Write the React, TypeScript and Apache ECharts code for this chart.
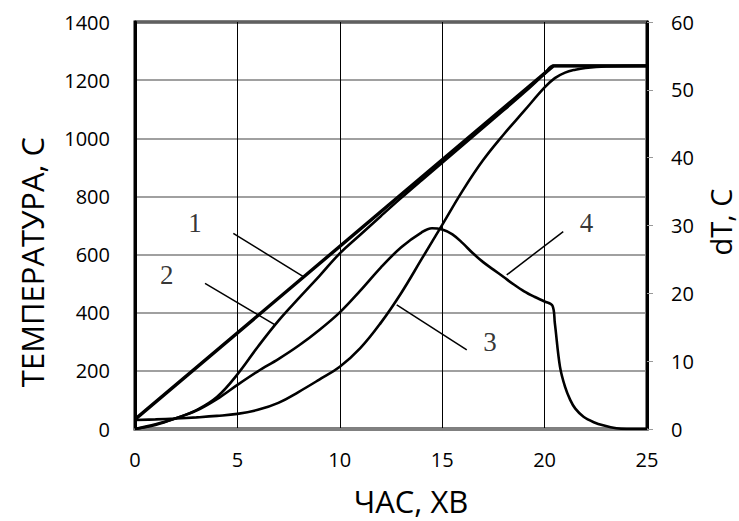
import React, { useEffect, useRef } from "react";
import * as echarts from "echarts";

const xTicks = { min: 0, max: 25, interval: 5 };
const leftTicks = { min: 0, max: 1400, interval: 200 };
const rightTicks = { min: 0, max: 60, interval: 10 };

// Curve 1: furnace temperature (linear heating then hold)
const curve1: number[][] = [[0, 33], [20.43, 1249], [25, 1249]];
// Curve 2
const curve2: number[][] = [
  [0, 0], [1, 14], [2, 37], [3, 65], [4, 110], [5, 188], [6, 283], [7, 372], [8, 450],
  [9, 526], [10, 604], [11, 668], [12, 732], [13, 795], [14, 856], [15, 916], [16, 976],
  [17, 1036], [18, 1096], [19, 1157], [20, 1222], [20.43, 1249], [25, 1249],
];
// Curve 3
const curve3: number[][] = [
  [0, 31], [1, 33], [2, 36], [3, 40], [4, 45], [5, 52], [6, 66], [7, 90], [8, 128], [9, 170],
  [10, 214], [11, 278], [12, 365], [13, 468], [14, 585], [15, 702], [16, 820], [17, 925],
  [18, 1013], [19, 1094], [20, 1175], [20.5, 1207], [21, 1226], [21.5, 1236], [22, 1242],
  [23, 1247], [25, 1249],
];
// Curve 4: dT (right axis)
const curve4: number[][] = [
  [0, 0], [1, 0.7], [2, 1.6], [3, 2.7], [4, 4.4], [5, 6.5], [6, 8.5], [7, 10.3], [8, 12.3],
  [9, 14.6], [10, 17.2], [11, 20.4], [12, 23.8], [13, 26.8], [14, 29.0], [14.5, 29.6],
  [15, 29.4], [15.5, 28.7], [16, 27.4], [16.5, 25.9], [17, 24.6], [17.5, 23.5], [18, 22.4],
  [18.5, 21.3], [19, 20.3], [19.5, 19.5], [20, 18.8], [20.38, 18.2], [20.5, 15.6],
  [20.75, 9.2], [21.0, 6.2], [21.25, 4.3], [21.5, 3.0], [21.9, 1.8], [22.4, 1.0],
  [22.9, 0.5], [23.5, 0.1], [24, 0], [25, 0],
];

// Leader lines (data coordinates on left axis) and curve numbers
const leader1: number[][] = [[4.8, 673], [8.22, 524]];
const leader2: number[][] = [[3.42, 501], [6.84, 358]];
const leader3: number[][] = [[12.78, 427], [16.2, 272]];
const leader4: number[][] = [[18.15, 530], [20.91, 679]];
const numberLabels: (number | string)[][] = [
  [2.93, 709, "1"],
  [1.55, 530, "2"],
  [17.33, 300, "3"],
  [22.05, 708, "4"],
];

const FONT = "'Open Sans', 'Noto Sans', sans-serif";

export default function App() {
  const ref = useRef<HTMLDivElement>(null);
  useEffect(() => {
    if (!ref.current) return;
    const chart = echarts.init(ref.current, undefined, { renderer: "svg" });
    const curveStyle = (w: number) => ({ color: "#000", width: w });
    const leader = (d: number[][]) => ({
      type: "line",
      data: d,
      yAxisIndex: 0,
      symbol: "none",
      lineStyle: { color: "#000", width: 1.5 },
      silent: true,
    });
    const plain = (v: number) => String(v);
    chart.setOption({
      animation: false,
      backgroundColor: "#fff",
      grid: {
        left: 135,
        right: 92,
        top: 22,
        bottom: 92,
        show: true,
        borderColor: "#000",
        borderWidth: 3,
        backgroundColor: "transparent",
      },
      xAxis: {
        type: "value",
        ...xTicks,
        axisLine: { show: true, lineStyle: { color: "#808080", width: 3 } },
        axisTick: { show: false },
        axisLabel: { color: "#000", fontSize: 20, fontFamily: FONT, margin: 20, formatter: plain },
        splitLine: { show: true, lineStyle: { color: "#000", width: 1 } },
      },
      yAxis: [
        {
          type: "value",
          ...leftTicks,
          position: "left",
          axisLine: { show: true, lineStyle: { color: "#000", width: 3 } },
          axisTick: { show: false },
          axisLabel: { color: "#000", fontSize: 20, fontFamily: FONT, margin: 25, formatter: plain },
          splitLine: { show: true, lineStyle: { color: "#808080", width: 1.5 } },
        },
        {
          type: "value",
          ...rightTicks,
          position: "right",
          axisLine: { show: true, lineStyle: { color: "#000", width: 3 } },
          axisTick: { show: true, inside: false, length: 6, lineStyle: { color: "#999", width: 1 } },
          axisLabel: { color: "#000", fontSize: 20, fontFamily: FONT, margin: 24, formatter: plain },
          splitLine: { show: false },
        },
      ],
      series: [
        {
          type: "line", data: curve1, yAxisIndex: 0, symbol: "none",
          lineStyle: curveStyle(3.4), z: 5,
        },
        {
          type: "line", data: curve2, yAxisIndex: 0, symbol: "none", smooth: 0.4,
          lineStyle: curveStyle(2.6), z: 5,
        },
        {
          type: "line", data: curve3, yAxisIndex: 0, symbol: "none", smooth: 0.4,
          lineStyle: curveStyle(2.6), z: 5,
        },
        {
          type: "line", data: curve4, yAxisIndex: 1, symbol: "none", smooth: 0.35,
          lineStyle: curveStyle(2.6), z: 5,
        },
        leader(leader1),
        leader(leader2),
        leader(leader3),
        leader(leader4),
        {
          type: "scatter",
          yAxisIndex: 0,
          data: numberLabels,
          symbolSize: 1,
          itemStyle: { color: "rgba(0,0,0,0)" },
          silent: true,
          label: {
            show: true,
            position: "inside",
            formatter: (p: any) => p.value[2],
            color: "#000",
            fontSize: 27,
            fontFamily: "'Liberation Serif', 'DejaVu Serif', serif",
          },
        },
      ],
      graphic: [
        {
          type: "text",
          x: 32,
          y: 262,
          rotation: Math.PI / 2,
          style: {
            text: "ТЕМПЕРАТУРА, С",
            fill: "#000",
            font: `31px ${FONT}`,
            textAlign: "center",
            textVerticalAlign: "middle",
          },
        },
        {
          type: "text",
          x: 411,
          y: 501,
          style: {
            text: "ЧАС, ХВ",
            fill: "#000",
            font: `31px ${FONT}`,
            textAlign: "center",
            textVerticalAlign: "middle",
          },
        },
        {
          type: "text",
          x: 720,
          y: 222,
          rotation: Math.PI / 2,
          style: {
            text: "dT, C",
            fill: "#000",
            font: `29px ${FONT}`,
            textAlign: "center",
            textVerticalAlign: "middle",
          },
        },
      ],
    });
    return () => chart.dispose();
  }, []);
  return (
    <div
      ref={ref}
      style={{ position: "fixed", left: 0, top: 0, width: 739, height: 521, background: "#fff" }}
    />
  );
}
